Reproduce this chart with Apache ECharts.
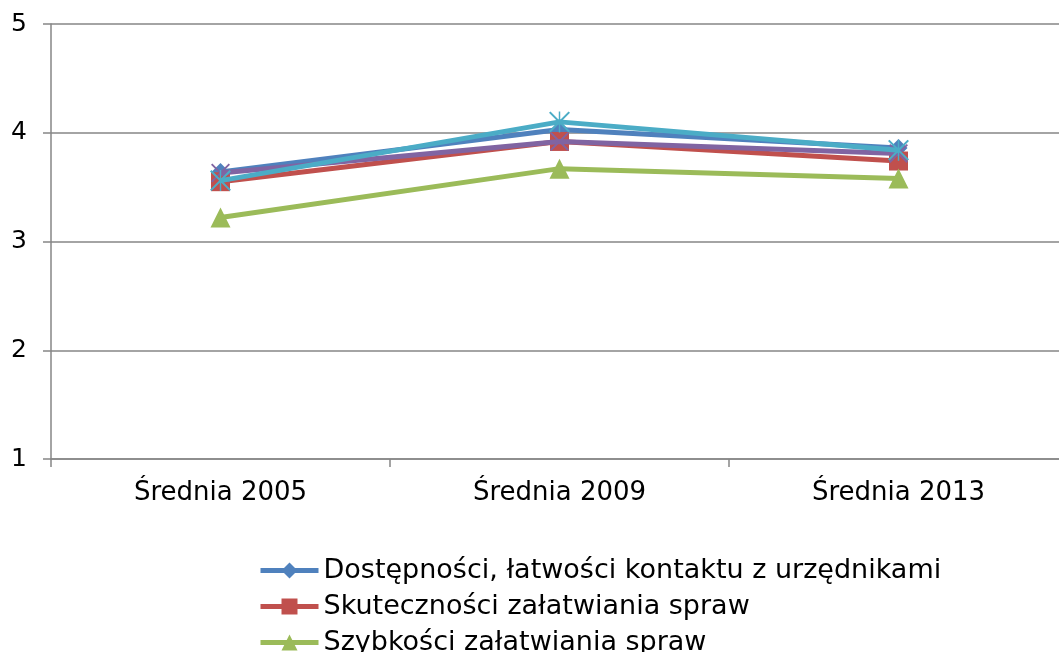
<!DOCTYPE html>
<html>
<head>
<meta charset="utf-8">
<script src="https://cdn.jsdelivr.net/npm/echarts@6/dist/echarts.min.js"></script>
<style>html,body{margin:0;padding:0;background:#fff}#c{width:1059px;height:652px}</style>
</head>
<body>
<div id="c"></div>
<script>
const categories = ['Średnia 2005', 'Średnia 2009', 'Średnia 2013'];
const yTicks = [1, 2, 3, 4, 5];
const seriesNames = [
  'Dostępności, łatwości kontaktu z urzędnikami',
  'Skuteczności załatwiania spraw',
  'Szybkości załatwiania spraw',
  'Seria 4',
  'Seria 5'
];
const dostepnosci = [3.64, 4.03, 3.86];
const skutecznosci = [3.55, 3.92, 3.74];
const szybkosci = [3.22, 3.67, 3.58];
const seria4 = [3.63, 3.92, 3.81];
const seria5 = [3.56, 4.10, 3.84];

const colors = ['#4F81BD', '#C0504D', '#9BBB59', '#8064A2', '#4BACC6'];
const xPath = 'path://M0,1.4 L1.4,0 L20,18.6 L18.6,20 Z M18.6,0 L20,1.4 L1.4,20 L0,18.6 Z';
const starPath = 'path://M0,1.4 L1.4,0 L20,18.6 L18.6,20 Z M18.6,0 L20,1.4 L1.4,20 L0,18.6 Z M9.3,0 L10.7,0 L10.7,20 L9.3,20 Z';
const symbols = ['diamond', 'rect', 'triangle', xPath, starPath];
const sizes = [18, 19, 20, 19, 21];
const data = [dostepnosci, skutecznosci, szybkosci, seria4, seria5];

const chart = echarts.init(document.getElementById('c'), null, {renderer: 'canvas'});
const font = 'DejaVu Sans, Verdana, sans-serif';
chart.setOption({
  animation: false,
  backgroundColor: '#ffffff',
  grid: {left: 51, top: 24, width: 1017, height: 435, containLabel: false, outerBoundsMode: 'none'},
  xAxis: {
    type: 'category',
    data: categories,
    boundaryGap: true,
    axisLine: {lineStyle: {color: '#868686', width: 1.5}},
    axisTick: {show: true, length: 8, inside: false, lineStyle: {color: '#868686', width: 1.5}},
    axisLabel: {color: '#000', fontSize: 26, fontFamily: font, margin: 21}
  },
  yAxis: {
    type: 'value',
    min: yTicks[0],
    max: yTicks[yTicks.length - 1],
    interval: 1,
    axisLine: {show: true, lineStyle: {color: '#868686', width: 1.5}},
    axisTick: {show: true, length: 8, lineStyle: {color: '#868686', width: 1.5}},
    splitLine: {show: true, lineStyle: {color: '#868686', width: 1.5}},
    axisLabel: {color: '#000', fontSize: 25, fontFamily: font, margin: 24}
  },
  legend: {
    orient: 'vertical',
    left: 253,
    top: 552,
    height: 200,
    itemWidth: 58,
    itemHeight: 20,
    itemGap: 9,
    data: seriesNames.slice(0, 3),
    lineStyle: {width: 5},
    textStyle: {color: '#000', fontSize: 27, fontFamily: font, lineHeight: 27}
  },
  series: data.map((d, i) => ({
    name: seriesNames[i],
    type: 'line',
    data: d,
    symbol: symbols[i],
    symbolSize: sizes[i],
    z: 2 + i,
    color: colors[i],
    lineStyle: {color: colors[i], width: 5},
    itemStyle: {color: colors[i], borderWidth: 0}
  }))
});
</script>
</body>
</html>
